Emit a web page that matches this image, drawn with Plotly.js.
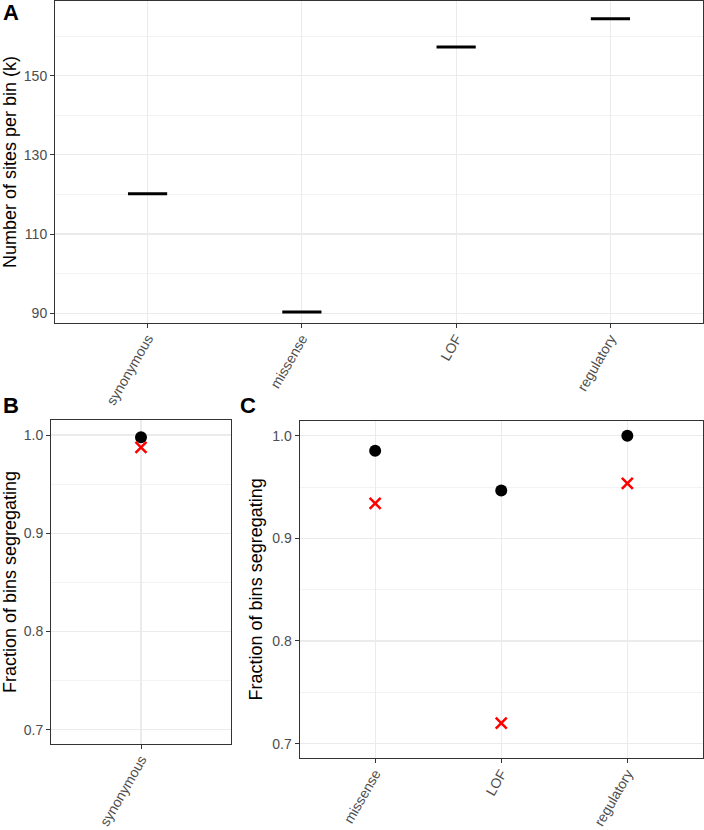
<!DOCTYPE html>
<html>
<head>
<meta charset="utf-8">
<script src="https://cdn.plot.ly/plotly-3.0.1.min.js"></script>
<style>html,body{margin:0;padding:0;background:#fff;}#chart{width:704px;height:830px;}</style>
</head>
<body>
<div id="chart"></div>
<script>
// ---- data ----
const categoriesA = ['synonymous', 'missense', 'LOF', 'regulatory'];
const sitesPerBinK = [120.2, 90.25, 157.3, 164.4];

const categoriesB = ['synonymous'];
const fracDotB = [0.9977];
const fracCrossB = [0.9875];

const categoriesC = ['missense', 'LOF', 'regulatory'];
const fracDotC = [0.9854, 0.9465, 1.0];
const fracCrossC = [0.934, 0.7199, 0.9536];

const yTicksA = [90, 110, 130, 150];
const yTicksBC = [0.7, 0.8, 0.9, 1.0];

// ---- styling ----
const FONT = 'Liberation Sans, Arial, Helvetica, sans-serif';
const W = 704, H = 830;
const px = v => v / W;
const py = v => 1 - v / H;

function xax(domain, range) {
  return {
    domain: domain, range: range, type: 'category',
    showline: true, mirror: true, linecolor: '#333333', linewidth: 1,
    ticks: 'outside', ticklen: 4, tickcolor: '#333333', tickwidth: 1,
    showgrid: true, gridcolor: '#ebebeb', gridwidth: 1.1,
    tickangle: -60, ticklabelstandoff: -3,
    tickfont: {family: FONT, size: 14, color: '#4d4d4d'},
    zeroline: false, fixedrange: true
  };
}
function yax(domain, range, tickvals, fmt, minorDtick, anchor) {
  return {
    domain: domain, range: range, anchor: anchor,
    tickvals: tickvals, tickformat: fmt,
    showline: true, mirror: true, linecolor: '#333333', linewidth: 1,
    ticks: 'outside', ticklen: 4, tickcolor: '#333333', tickwidth: 1,
    showgrid: true, gridcolor: '#ebebeb', gridwidth: 1.1,
    minor: {dtick: minorDtick, showgrid: true, gridcolor: '#f0f0f0', gridwidth: 0.8, ticks: ''},
    tickfont: {family: FONT, size: 14, color: '#4d4d4d'},
    zeroline: false, fixedrange: true
  };
}

const traces = [
  {
    x: categoriesA, y: sitesPerBinK, xaxis: 'x', yaxis: 'y',
    type: 'scatter', mode: 'markers', showlegend: false, hoverinfo: 'x+y',
    marker: {symbol: 'line-ew', size: 28, color: '#000', line: {color: '#000', width: 3}}
  },
  {
    x: categoriesB, y: fracDotB, xaxis: 'x2', yaxis: 'y2',
    type: 'scatter', mode: 'markers', showlegend: false,
    marker: {symbol: 'circle', size: 12, color: '#000'}
  },
  {
    x: categoriesB, y: fracCrossB, xaxis: 'x2', yaxis: 'y2',
    type: 'scatter', mode: 'markers', showlegend: false,
    marker: {symbol: 'x-thin', size: 11, color: '#ff0000', line: {color: '#ff0000', width: 2.5}}
  },
  {
    x: categoriesC, y: fracDotC, xaxis: 'x3', yaxis: 'y3',
    type: 'scatter', mode: 'markers', showlegend: false,
    marker: {symbol: 'circle', size: 12, color: '#000'}
  },
  {
    x: categoriesC, y: fracCrossC, xaxis: 'x3', yaxis: 'y3',
    type: 'scatter', mode: 'markers', showlegend: false,
    marker: {symbol: 'x-thin', size: 11, color: '#ff0000', line: {color: '#ff0000', width: 2.5}}
  }
];

const titleFont = {family: FONT, size: 18, color: '#000'};
const yA = yax([py(323), py(1)], [87.5, 168.9], yTicksA, 'd', 10, 'x');
yA.title = {text: 'Number of sites per bin (k)', font: titleFont, standoff: 5};
const yB = yax([py(744), py(420)], [0.6855, 1.0153], yTicksBC, '.1f', 0.05, 'x2');
yB.title = {text: 'Fraction of bins segregating', font: titleFont, standoff: 5};
const yC = yax([py(758), py(420.7)], [0.686, 1.0146], yTicksBC, '.1f', 0.05, 'x3');
yC.title = {text: 'Fraction of bins segregating', font: titleFont, standoff: 4};

const xA = xax([px(55), px(703)], [-0.6, 3.6]); xA.anchor = 'y';
const xB = xax([px(51), px(231)], [-0.6, 0.6]); xB.anchor = 'y2';
const xC = xax([px(299.5), px(703)], [-0.6, 2.6]); xC.anchor = 'y3';

function panelLabel(t, x, y) {
  return {text: '<b>' + t + '</b>', xref: 'paper', yref: 'paper', x: px(x), y: py(y),
    xanchor: 'left', yanchor: 'middle', showarrow: false,
    font: {family: FONT, size: 22, color: '#000'}};
}

const layout = {
  width: W, height: H,
  margin: {l: 0, r: 0, t: 0, b: 0},
  paper_bgcolor: '#fff', plot_bgcolor: '#fff',
  font: {family: FONT},
  xaxis: xA, yaxis: yA,
  xaxis2: xB, yaxis2: yB,
  xaxis3: xC, yaxis3: yC,
  annotations: [panelLabel('A', 1, 12), panelLabel('B', 1, 405), panelLabel('C', 238, 405)]
};

Plotly.newPlot('chart', traces, layout, {displayModeBar: false, staticPlot: true});
</script>
</body>
</html>
